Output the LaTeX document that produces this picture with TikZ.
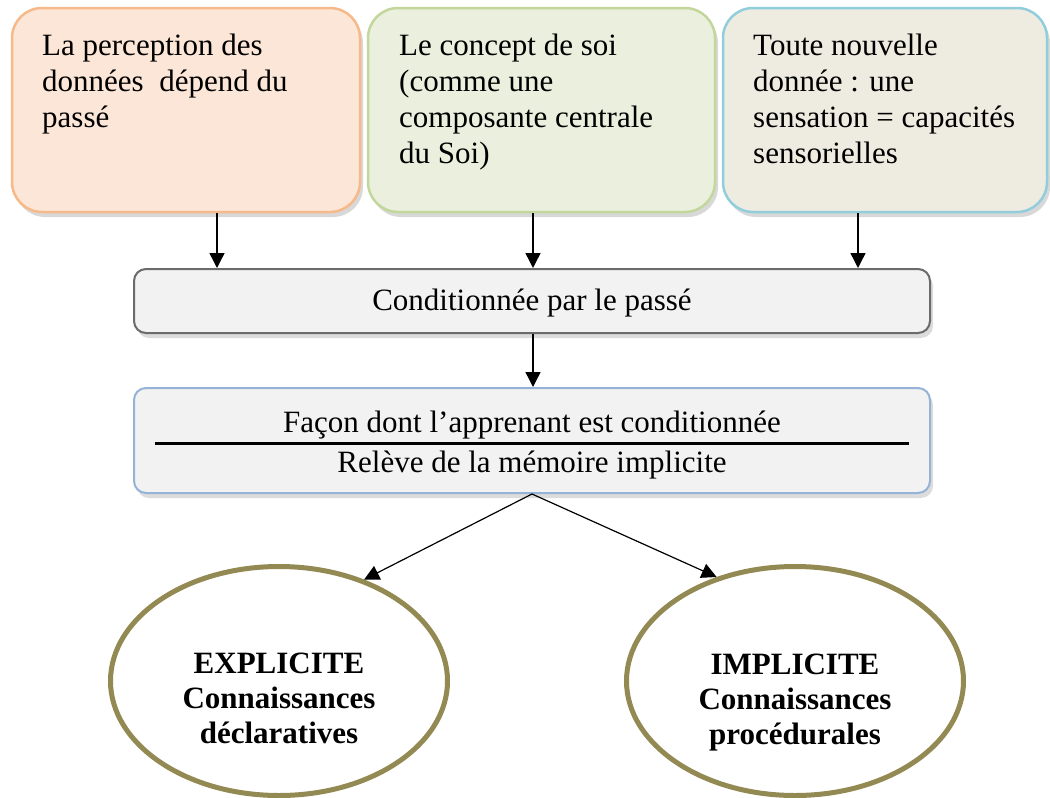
\documentclass[tikz,border=0pt]{standalone}
\usepackage{fontspec}
\setmainfont{Liberation Serif}
\usetikzlibrary{shapes,shadows,arrows.meta}
\definecolor{peachfill}{HTML}{FCE6D8}
\definecolor{peachline}{HTML}{F6B98A}
\definecolor{sagefill}{HTML}{EAF0DD}
\definecolor{sageline}{HTML}{C3D69B}
\definecolor{stonefill}{HTML}{EEECE1}
\definecolor{skyline}{HTML}{92CDDC}
\definecolor{paperfill}{HTML}{F2F2F2}
\definecolor{slateline}{HTML}{6B6B6B}
\definecolor{steelline}{HTML}{95B3D7}
\definecolor{oliveline}{HTML}{938953}
% one unit = one pixel of the page, y runs downwards
\tikzstyle{top box}=[
  rectangle, rounded corners=30pt, line width=2.5pt,
  minimum height=204pt, inner sep=0pt,
  drop shadow={shadow xshift=3pt, shadow yshift=-5pt, fill=gray!60}
]
\tikzstyle{main box}=[
  rectangle, rounded corners=12pt, line width=2pt, fill=paperfill,
  minimum width=796pt, inner sep=0pt,
  drop shadow={shadow xshift=3pt, shadow yshift=-5pt, fill=gray!55}
]
\tikzstyle{box text}=[
  inner sep=0pt, align=left, anchor=north west,
  font=\fontsize{31}{36}\selectfont
]
\tikzstyle{line text}=[
  inner sep=0pt, anchor=base, font=\fontsize{31}{36}\selectfont
]
\tikzstyle{memory}=[
  ellipse, draw=oliveline, line width=5pt, fill=white,
  minimum width=337pt, minimum height=229pt
]
\tikzstyle{memory text}=[
  inner sep=0pt, align=center,
  font=\fontsize{31}{35}\selectfont\bfseries
]
\tikzstyle{flow}=[
  line width=1.4pt, -{Triangle[length=15pt,width=15pt]}
]

\begin{document}
\begin{tikzpicture}[x=1pt, y=-1pt]
  \useasboundingbox (0,0) rectangle (1050,798);

  % the three sources
  \node[top box, fill=peachfill, draw=peachline, minimum width=348pt]
    (perception) at (186,110) {};
  \node[top box, fill=sagefill, draw=sageline, minimum width=347pt]
    (soi) at (541.5,110) {};
  \node[top box, fill=stonefill, draw=skyline, minimum width=324pt]
    (donnee) at (885,110) {};
  \node[box text] (perception text) at (42,34)
    {La perception des\\donn\'ees~ d\'epend du\\pass\'e};
  \node[box text] (soi text) at (399,34)
    {Le concept de soi\\(comme une\\composante centrale\\du Soi)};
  \node[box text] (donnee text) at (753,34)
    {Toute nouvelle\\donn\'ee : une\\sensation = capacit\'es\\sensorielles};

  % conditioning
  \node[main box, draw=slateline, minimum height=64pt]
    (cond) at (532,301) {};
  \node[line text] (cond text) at (532,310) {Conditionn\'ee par le pass\'e};

  \node[main box, draw=steelline, minimum height=105pt]
    (facon) at (532,440.5) {};
  \node[line text] (facon top) at (532,432)
    {Fa\c{c}on dont l'apprenant est conditionn\'ee};
  \node[line text] (facon bottom) at (532,472)
    {Rel\`eve de la m\'emoire implicite};
  \draw[line width=3pt] (155,443) -- (909,443);

  % the two memories
  \node[memory] (explicite) at (279,681) {};
  \node[memory] (implicite) at (795,681) {};
  \node[memory text] (explicite text) at (279,698)
    {EXPLICITE\\Connaissances\\d\'eclaratives};
  \node[memory text] (implicite text) at (795,703)
    {IMPLICITE\\Connaissances\\proc\'edurales};

  \coordinate (in1) at (217,0);
  \coordinate (in2) at (533,0);
  \coordinate (in3) at (858,0);
  \draw[flow] (perception.south -| in1) -- (cond.north -| in1);
  \draw[flow] (soi.south -| in2) -- (cond.north -| in2);
  \draw[flow] (donnee.south -| in3) -- (cond.north -| in3);
  \draw[flow] (cond.south -| in2) -- (facon.north -| in2);
  \draw[flow, line width=1.2pt] (facon.south) -- (explicite.50);
  \draw[flow, line width=1.2pt] (facon.south) -- (implicite.127);
\end{tikzpicture}
\end{document}
